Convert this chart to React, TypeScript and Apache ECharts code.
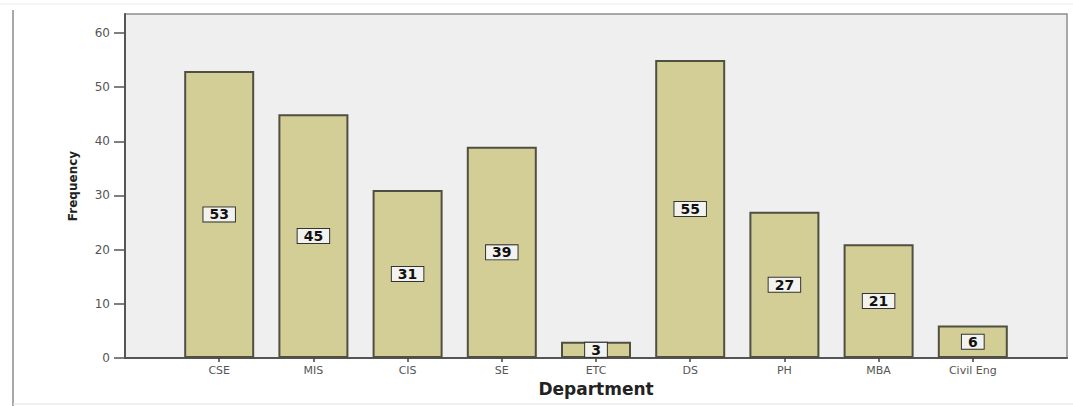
import React, { useEffect, useRef } from "react";
import * as echarts from "echarts";

// Department frequency counts
const categories = ["CSE", "MIS", "CIS", "SE", "ETC", "DS", "PH", "MBA", "Civil Eng"];
const frequencies = [53, 45, 31, 39, 3, 55, 27, 21, 6];
const yTicks = [0, 10, 20, 30, 40, 50, 60];

const FONT = "'DejaVu Sans', 'Liberation Sans', sans-serif";

export default function App() {
  const ref = useRef<HTMLDivElement>(null);

  useEffect(() => {
    if (!ref.current) return;
    const chart = echarts.init(ref.current, undefined, { renderer: "svg" });

    // One empty slot on each side of the categories keeps a half-bar margin
    // at both ends of the plot area.
    const axisData = ["", ...categories, ""];
    const barData = [null, ...frequencies, null];

    chart.setOption({
      animation: false,
      backgroundColor: "#ffffff",
      grid: {
        left: 125,
        right: 6,
        top: 14,
        bottom: 48,
        show: true,
        backgroundColor: "#efefef",
        borderColor: "#8e8e8e",
        borderWidth: 1.5,
      },
      xAxis: {
        type: "category",
        data: axisData,
        boundaryGap: false,
        name: "Department",
        nameLocation: "middle",
        nameGap: 21,
        nameTextStyle: { fontFamily: FONT, fontSize: 17, fontWeight: "bold", color: "#222" },
        axisLine: { lineStyle: { color: "#555", width: 2 } },
        axisTick: {
          show: true,
          inside: false,
          length: 4,
          interval: (_i: number, v: string) => v !== "",
          lineStyle: { color: "#444", width: 1.5 },
        },
        axisLabel: { interval: 0, fontFamily: FONT, fontSize: 11, color: "#555", margin: 7 },
        splitLine: { show: false },
      },
      yAxis: {
        type: "value",
        min: 0,
        max: 63.5,
        interval: 10,
        name: "Frequency",
        nameLocation: "middle",
        nameGap: 46,
        nameTextStyle: { fontFamily: FONT, fontSize: 12, fontWeight: "bold", color: "#222" },
        axisLine: { show: true, lineStyle: { color: "#555", width: 2 } },
        axisTick: {
          show: true,
          inside: false,
          length: 11,
          customValues: yTicks,
          lineStyle: { color: "#555", width: 1.5 },
        },
        axisLabel: {
          customValues: yTicks,
          fontFamily: FONT,
          fontSize: 12,
          color: "#555",
          margin: 15,
        },
        splitLine: { show: false },
      },
      series: [
        {
          type: "bar",
          data: barData,
          barWidth: 70,
          itemStyle: { color: "#d3cd96", borderColor: "#4f4f42", borderWidth: 2 },
          label: {
            show: true,
            position: "inside",
            fontFamily: FONT,
            fontSize: 14,
            fontWeight: "bold",
            color: "#111",
            backgroundColor: "#f2f2ee",
            borderColor: "#333",
            borderWidth: 1,
            padding: [0, 6],
          },
        },
      ],
      graphic: [
        {
          type: "line",
          shape: { x1: 13, y1: 10, x2: 13, y2: 406 },
          style: { stroke: "#a8a8a8", lineWidth: 2 },
          silent: true,
        },
        {
          type: "line",
          shape: { x1: 0, y1: 4, x2: 1073, y2: 4 },
          style: { stroke: "#ececec", lineWidth: 1 },
          silent: true,
        },
        {
          type: "line",
          shape: { x1: 13, y1: 404, x2: 1073, y2: 404 },
          style: { stroke: "#e2e2e2", lineWidth: 1 },
          silent: true,
        },
      ],
    });

    return () => chart.dispose();
  }, []);

  return (
    <div
      ref={ref}
      style={{ position: "fixed", left: 0, top: 0, width: 1073, height: 406 }}
    />
  );
}
